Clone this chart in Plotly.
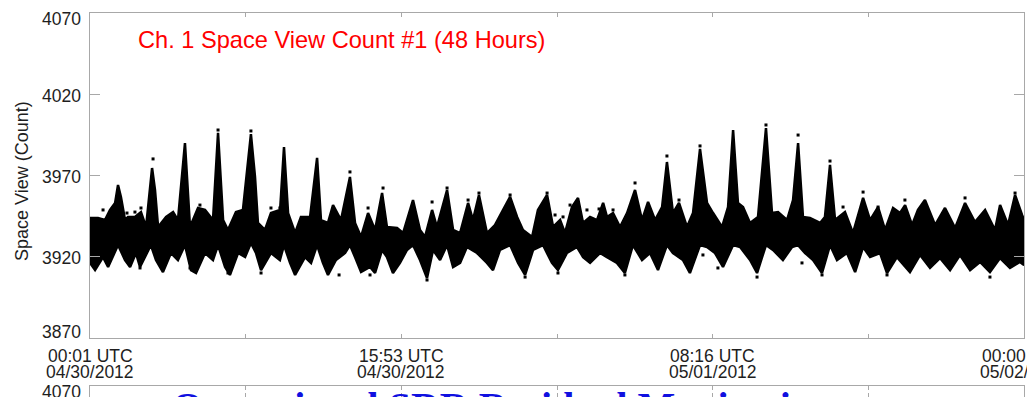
import plotly.graph_objects as go

# ---------------- data ----------------
# upper edge of the dense count band: hours since 00:01 UTC 04/30/2012, counts
up_hours = [0.00, 0.15, 0.41, 0.77, 1.03, 1.29, 1.44, 1.59, 1.80, 1.95, 2.31, 2.62, 2.88, 3.19, 3.34, 3.50,
            3.91, 4.27, 4.52, 4.88, 5.14, 5.55, 5.91, 6.32, 6.58, 6.84, 7.09, 7.50, 7.86, 8.27, 8.48, 8.63,
            8.99, 9.30, 9.77, 9.97, 10.18, 10.54, 10.84, 11.31, 11.67, 11.87, 12.23, 12.49, 12.90, 13.36,
            13.62, 13.93, 14.29, 14.65, 15.01, 15.26, 15.78, 16.09, 16.60, 16.96, 17.22, 17.58, 17.83,
            18.35, 18.66, 19.02, 19.43, 19.68, 19.99, 20.40, 20.81, 21.23, 21.59, 21.95, 22.25, 22.72,
            23.02, 23.49, 23.80, 24.16, 24.41, 24.77, 25.08, 25.34, 25.70, 26.06, 26.37, 26.57, 26.88,
            27.24, 27.60, 28.01, 28.37, 28.68, 29.04, 29.40, 29.65, 29.96, 30.27, 30.68, 30.99, 31.35,
            31.71, 32.02, 32.48, 32.79, 33.05, 33.30, 33.56, 33.92, 34.33, 34.74, 35.05, 35.36, 35.82,
            36.13, 36.39, 36.64, 37.00, 37.52, 37.77, 38.03, 38.29, 38.80, 39.21, 39.73, 40.09, 40.50,
            40.86, 41.27, 41.63, 41.89, 42.25, 42.55, 42.91, 43.43, 43.94, 44.46, 44.97, 45.48, 46.00,
            46.51, 46.77, 47.18, 47.54, 47.90, 48.00]
up_counts = [3943.8, 3943.8, 3943.8, 3942.6, 3948.8, 3953.1, 3964.2, 3956.8, 3942.6, 3944.5, 3944.5, 3947.5,
             3938.3, 3974.6, 3961.1, 3938.3, 3944.5, 3947.5, 3942.6, 3990.0, 3938.3, 3950.0, 3948.8, 3942.6,
             3996.2, 3942.6, 3936.5, 3947.5, 3948.8, 3995.5, 3969.1, 3940.8, 3936.5, 3946.9, 3948.8, 3987.5,
             3946.9, 3934.6, 3944.5, 3944.5, 3980.8, 3942.6, 3940.8, 3951.8, 3942.6, 3969.1, 3940.8, 3932.2,
             3946.9, 3936.5, 3959.2, 3938.3, 3937.7, 3934.6, 3954.9, 3936.5, 3932.2, 3948.8, 3938.3, 3961.1,
             3936.5, 3934.6, 3953.1, 3942.6, 3958.0, 3934.6, 3939.5, 3948.8, 3956.8, 3944.5, 3936.5, 3932.2,
             3948.8, 3958.0, 3938.3, 3942.6, 3934.6, 3950.6, 3956.2, 3940.8, 3944.5, 3942.6, 3953.1, 3944.5,
             3946.9, 3938.3, 3946.9, 3961.1, 3942.6, 3953.7, 3942.6, 3950.6, 3978.3, 3946.9, 3953.1, 3938.3,
             3946.9, 3986.3, 3953.1, 3946.9, 3938.3, 3950.6, 3998.0, 3953.1, 3950.6, 3940.8, 3944.5, 3999.2,
             3946.9, 3947.5, 3942.6, 3954.9, 3990.0, 3944.5, 3943.8, 3940.8, 3944.5, 3976.5, 3942.6, 3947.5,
             3934.6, 3956.2, 3942.6, 3950.6, 3936.5, 3950.0, 3946.9, 3951.8, 3939.5, 3948.8, 3954.9, 3939.5,
             3950.0, 3937.7, 3953.1, 3941.4, 3948.8, 3936.5, 3951.8, 3939.5, 3958.0, 3945.7, 3942.6]

# lower edge of the band
lo_hours = [0.00, 0.26, 0.67, 0.93, 1.44, 1.80, 2.06, 2.36, 2.57, 3.13, 3.39, 3.75, 4.16, 4.52, 4.88, 5.19,
            5.45, 5.91, 6.32, 6.58, 6.94, 7.19, 7.61, 7.97, 8.27, 8.53, 8.79, 9.30, 9.76, 9.97, 10.28, 10.54,
            11.05, 11.36, 11.67, 11.97, 12.23, 12.64, 13.11, 13.36, 13.62, 13.93, 14.39, 14.65, 15.01, 15.26,
            15.57, 15.93, 16.29, 16.60, 16.96, 17.32, 17.63, 17.99, 18.35, 18.66, 19.02, 19.37, 19.89, 20.40,
            20.71, 21.07, 21.59, 22.00, 22.36, 22.77, 23.28, 23.74, 24.05, 24.51, 25.03, 25.34, 25.70, 26.21,
            26.57, 27.08, 27.49, 27.90, 28.37, 28.78, 29.19, 29.65, 29.96, 30.47, 30.83, 31.35, 31.71, 32.12,
            32.53, 33.05, 33.41, 33.92, 34.28, 34.74, 35.10, 35.61, 36.08, 36.39, 36.75, 37.16, 37.62, 38.03,
            38.39, 38.90, 39.32, 39.73, 40.09, 40.60, 40.96, 41.47, 42.14, 42.66, 43.17, 43.68, 44.20, 44.71,
            45.23, 45.74, 46.25, 46.77, 47.28, 47.79, 48.00]
lo_counts = [3916.2, 3911.8, 3919.8, 3913.7, 3927.2, 3918.0, 3913.7, 3922.3, 3913.7, 3927.2, 3918.0, 3910.6,
             3922.3, 3918.0, 3927.2, 3911.8, 3910.0, 3922.3, 3918.0, 3927.2, 3913.7, 3908.8, 3922.3, 3919.8,
             3928.5, 3922.3, 3911.8, 3922.3, 3918.0, 3927.2, 3916.2, 3908.8, 3919.8, 3916.2, 3927.2, 3916.2,
             3908.8, 3918.0, 3922.3, 3927.2, 3919.8, 3910.6, 3913.7, 3910.0, 3924.2, 3919.8, 3910.0, 3916.2,
             3924.2, 3927.2, 3918.0, 3906.9, 3924.2, 3918.0, 3927.2, 3913.7, 3916.2, 3926.0, 3922.3, 3916.2,
             3911.8, 3924.2, 3927.2, 3916.2, 3908.8, 3924.2, 3927.2, 3916.2, 3911.8, 3922.3, 3926.0, 3919.8,
             3916.2, 3922.3, 3919.8, 3916.2, 3910.0, 3927.2, 3918.0, 3922.3, 3911.8, 3927.2, 3922.3, 3918.0,
             3910.0, 3927.2, 3926.0, 3922.3, 3913.7, 3927.2, 3926.0, 3918.0, 3910.0, 3927.2, 3924.2, 3918.0,
             3926.0, 3927.2, 3922.3, 3918.0, 3910.0, 3927.2, 3918.0, 3922.3, 3910.6, 3926.0, 3919.8, 3922.3,
             3910.0, 3919.8, 3910.6, 3921.1, 3913.1, 3919.2, 3911.8, 3921.1, 3911.8, 3916.8, 3910.6, 3919.2,
             3913.1, 3916.8, 3914.9]

# isolated samples lying outside the dense band
out_hours = [3.24, 6.58, 8.27, 0.67, 1.90, 2.31, 2.62, 5.65, 9.30, 9.76, 11.31, 13.36, 14.29, 15.06, 2.57,
             5.14, 7.09, 8.79, 12.80, 14.39, 17.58, 18.35, 19.43, 19.99, 21.59, 23.49, 23.90, 24.31, 24.67,
             25.54, 26.16, 26.88, 17.32, 22.36, 24.05, 27.49, 28.01, 29.65, 30.27, 31.35, 34.74, 36.39,
             38.03, 39.73, 38.70, 40.50, 31.50, 32.27, 34.28, 36.59, 37.62, 40.96, 41.88, 44.97, 47.54, 46.25]
out_counts = [3980.2, 3998.0, 3997.4, 3948.8, 3946.9, 3947.5, 3950.0, 3951.8, 3950.0, 3950.0, 3943.8, 3972.2,
              3950.0, 3962.3, 3913.1, 3913.1, 3910.0, 3910.0, 3908.8, 3908.8, 3953.7, 3962.3, 3954.9, 3959.2,
              3958.0, 3959.2, 3945.7, 3944.5, 3951.8, 3948.8, 3949.4, 3948.8, 3905.7, 3907.5, 3910.0, 3908.8,
              3965.4, 3982.0, 3954.9, 3988.2, 4001.1, 3994.9, 3978.9, 3959.8, 3950.6, 3950.6, 3921.1, 3913.1,
              3907.5, 3916.2, 3908.8, 3908.8, 3954.9, 3956.2, 3959.2, 3907.5]

y_ticks = [3870, 3920, 3970, 4020, 4070]
x_tick_hours = [0, 8, 16, 24, 32, 40, 48]
label_hours = [0, 16, 32, 48]
label_times = ["00:01 UTC", "15:53 UTC", "08:16 UTC", "00:00 UTC"]
label_dates = ["04/30/2012", "04/30/2012", "05/01/2012", "05/02/2012"]

title_text = "Ch. 1 Space View Count #1 (48 Hours)"
y_title = "Space View (Count)"
next_panel_top = 4070
next_panel_text = "Operational SDR Residual Monitoring"

# ---------------- figure ----------------
FONT = "Liberation Sans, Arial, Helvetica, sans-serif"
AX = "#a8a8a8"
TXT = "#1e1e1e"
W, H = 1027, 397
ML, MR, MT, MB = 90, 3, 13, 0
PW, PH = W - ML - MR, H - MT - MB
main_bottom = (H - 338) / PH
next_top = (H - 386) / PH
y_lo, y_hi = 3870, 4070

fig = go.Figure()

band_x = up_hours + lo_hours[::-1]
band_y = up_counts + lo_counts[::-1]
fig.add_trace(go.Scatter(x=band_x, y=band_y, mode="lines", fill="toself",
                         fillcolor="black", line=dict(color="black", width=2.5),
                         hoverinfo="skip", showlegend=False))
fig.add_trace(go.Scatter(x=out_hours, y=out_counts, mode="markers",
                         marker=dict(symbol="square", size=3, color="black"),
                         showlegend=False))
# the next panel (only its top edge is visible in the picture)
fig.add_trace(go.Scatter(x=[None], y=[None], xaxis="x2", yaxis="y2", mode="markers",
                         showlegend=False, hoverinfo="skip"))

common_x = dict(range=[0, 48], tickvals=x_tick_hours, showticklabels=False,
                ticks="inside", ticklen=4, tickcolor=AX, showline=True, linecolor=AX, linewidth=1,
                mirror="ticks", showgrid=False, zeroline=False, automargin=False)
common_y = dict(ticks="inside", ticklen=10, tickcolor=AX, showline=True, linecolor=AX, linewidth=1,
                mirror="ticks", showgrid=False, zeroline=False, automargin=False,
                showticklabels=False)

fig.update_layout(
    width=W, height=H,
    margin=dict(l=ML, r=MR, t=MT, b=MB, autoexpand=False),
    paper_bgcolor="white", plot_bgcolor="white",
    font=dict(family=FONT, color=TXT, size=17.5),
    showlegend=False,
    xaxis=dict(domain=[0, 1], anchor="y", **common_x),
    yaxis=dict(domain=[main_bottom, 1], range=[y_lo, y_hi], tickvals=y_ticks, **common_y),
    xaxis2=dict(domain=[0, 1], anchor="y2", **common_x),
    yaxis2=dict(domain=[0, next_top], range=[next_panel_top - 11 * (y_hi - y_lo) / 325, next_panel_top],
                tickvals=[next_panel_top], anchor="x2", **common_y),
)

annotations = [dict(text=title_text, xref="paper", yref="paper", x=(136 - ML) / PW,
                    y=1 - (40 - MT) / PH, xanchor="left", yanchor="middle", showarrow=False,
                    font=dict(family=FONT, size=23.6, color="#ff0000"))]
# y tick labels (end labels sit inside the axis span, as in the picture)
for v in y_ticks:
    shift = -6 if v == y_hi else (6 if v == y_lo else -1.5)
    annotations.append(dict(text=str(v), x=0, xref="paper", y=v, yref="y", xanchor="right",
                            yanchor="middle", xshift=-7, yshift=shift, showarrow=False,
                            font=dict(family=FONT, size=17.5, color=TXT)))
annotations.append(dict(text=str(next_panel_top), x=0, xref="paper", y=next_top, yref="paper",
                        xanchor="right", yanchor="middle", xshift=-7, yshift=-6, showarrow=False,
                        font=dict(family=FONT, size=17.5, color=TXT)))
# y axis title
annotations.append(dict(text=y_title, x=(22 - ML) / PW, xref="paper", y=(H - 181) / PH, yref="paper",
                        xanchor="center", yanchor="middle", textangle=-90, showarrow=False,
                        font=dict(family=FONT, size=18, color=TXT)))
# x tick labels (two tight lines)
for h, t, d in zip(label_hours, label_times, label_dates):
    annotations.append(dict(text=t, x=h, xref="x", y=(H - 356) / PH, yref="paper",
                            xanchor="center", yanchor="middle", showarrow=False,
                            font=dict(family=FONT, size=17.5, color=TXT)))
    annotations.append(dict(text=d, x=h, xref="x", y=(H - 371.5) / PH, yref="paper",
                            xanchor="center", yanchor="middle", showarrow=False,
                            font=dict(family=FONT, size=17.5, color=TXT)))
annotations.append(dict(text="<b>" + next_panel_text + "</b>", xref="paper", yref="paper",
                        x=(170 - ML) / PW, y=(H - 381.5) / PH, xanchor="left", yanchor="top",
                        showarrow=False,
                        font=dict(family="Liberation Serif, Times New Roman, serif", size=40,
                                  color="#1010e0")))
fig.update_layout(annotations=annotations)

fig.write_html("out.html")
